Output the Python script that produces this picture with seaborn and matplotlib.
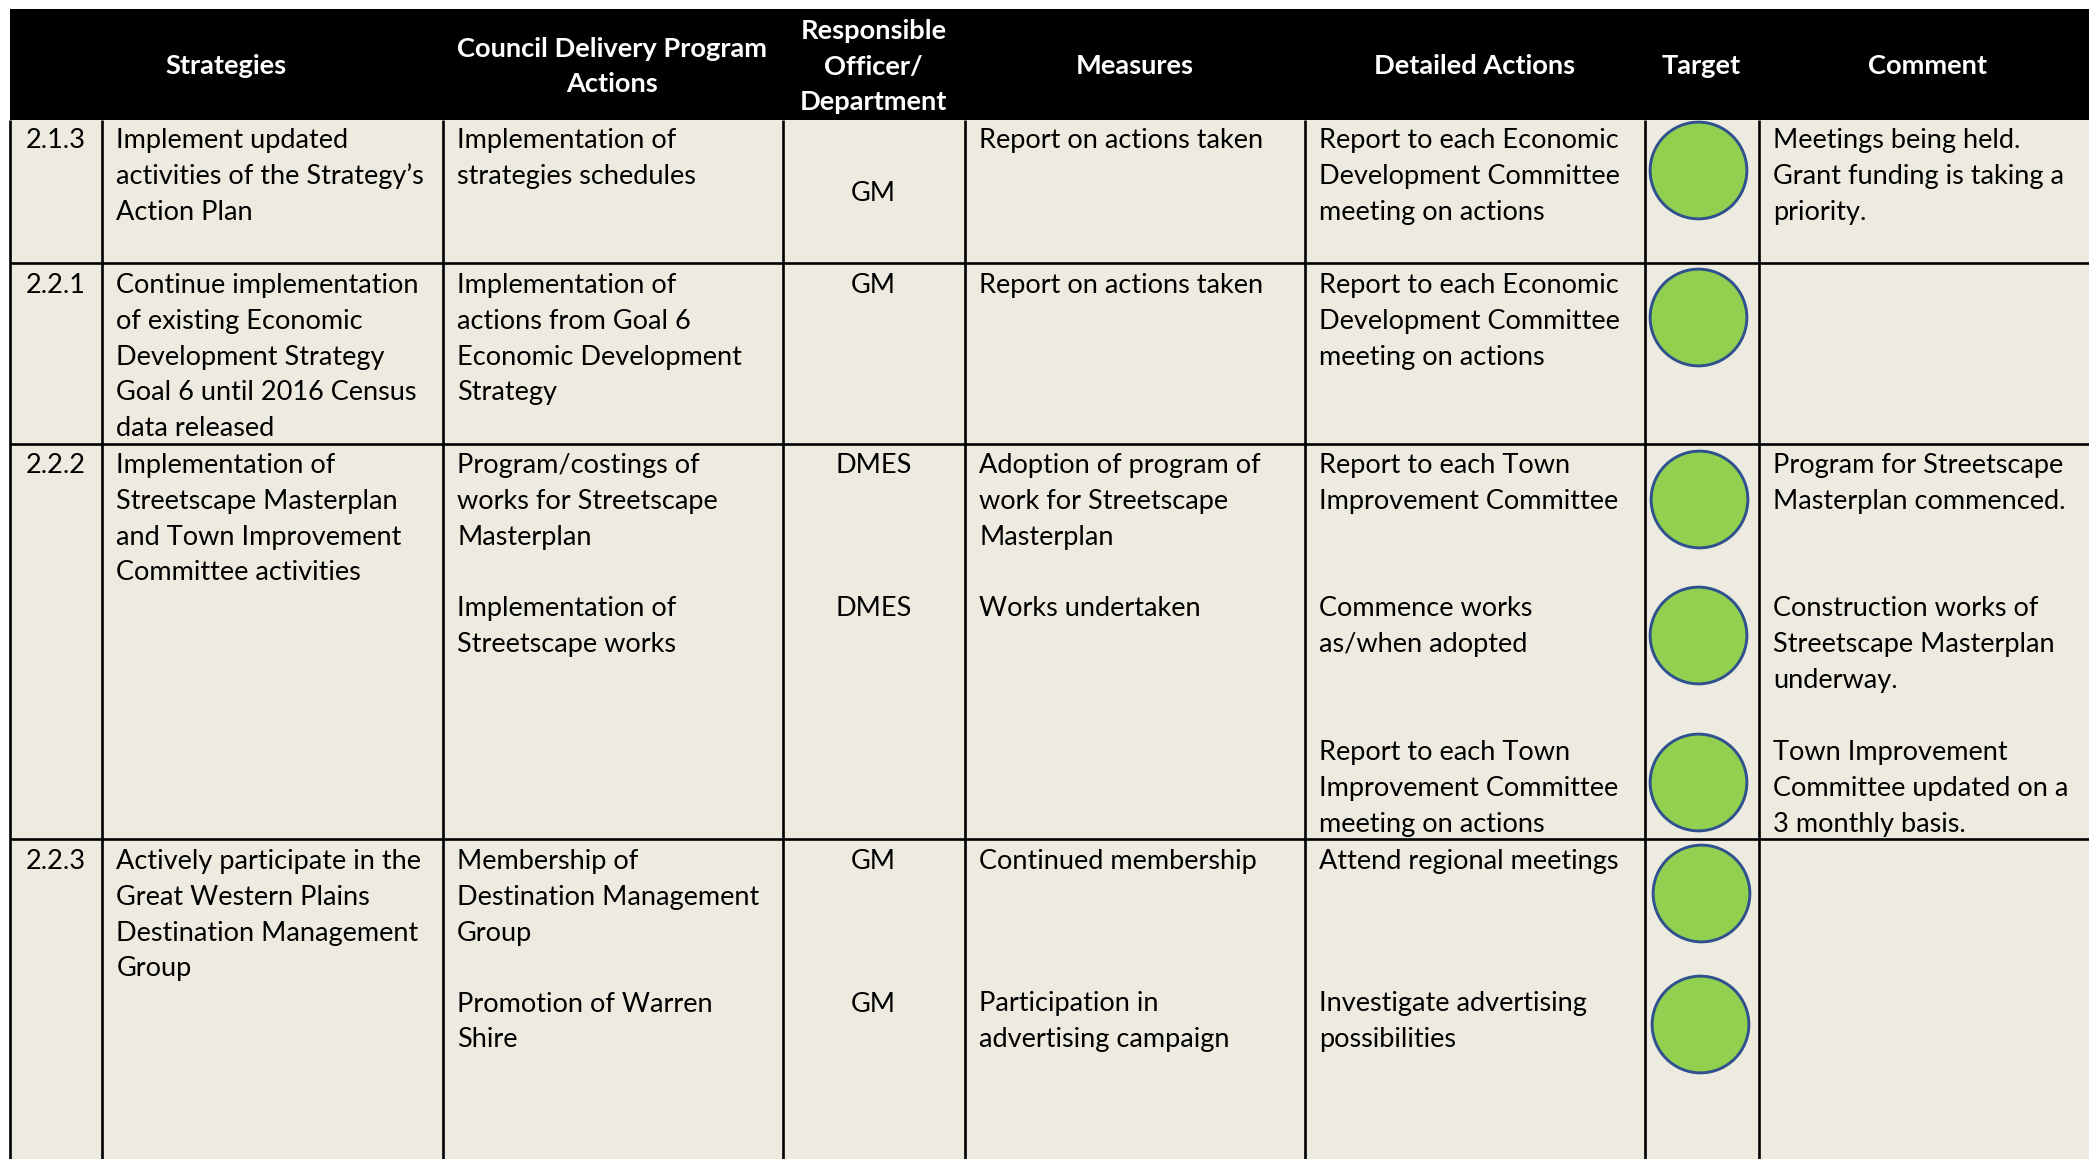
import matplotlib
matplotlib.use("Agg")
import matplotlib.pyplot as plt
import pandas as pd
import seaborn as sns
from matplotlib.patches import Rectangle

# ---- table content ----
headers = ["", "Strategies", "Council Delivery Program\nActions",
           "Responsible\nOfficer/\nDepartment", "Measures", "Detailed Actions",
           "Target", "Comment"]
codes = ["2.1.3", "2.2.1", "2.2.2", "", "", "2.2.3", ""]
strategies = [
    "Implement updated\nactivities of the Strategy’s\nAction Plan",
    "Continue implementation\nof existing Economic\nDevelopment Strategy\nGoal 6 until 2016 Census\ndata released",
    "Implementation of\nStreetscape Masterplan\nand Town Improvement\nCommittee activities",
    "", "",
    "Actively participate in the\nGreat Western Plains\nDestination Management\nGroup",
    "",
]
council_actions = [
    "Implementation of\nstrategies schedules",
    "Implementation of\nactions from Goal 6\nEconomic Development\nStrategy",
    "Program/costings of\nworks for Streetscape\nMasterplan",
    "Implementation of\nStreetscape works",
    "",
    "Membership of\nDestination Management\nGroup",
    "Promotion of Warren\nShire",
]
officers = ["GM", "GM", "DMES", "DMES", "", "GM", "GM"]
measures = [
    "Report on actions taken",
    "Report on actions taken",
    "Adoption of program of\nwork for Streetscape\nMasterplan",
    "Works undertaken",
    "",
    "Continued membership",
    "Participation in\nadvertising campaign",
]
detailed_actions = [
    "Report to each Economic\nDevelopment Committee\nmeeting on actions",
    "Report to each Economic\nDevelopment Committee\nmeeting on actions",
    "Report to each Town\nImprovement Committee",
    "Commence works\nas/when adopted",
    "Report to each Town\nImprovement Committee\nmeeting on actions",
    "Attend regional meetings",
    "Investigate advertising\npossibilities",
]
comments = [
    "Meetings being held.\nGrant funding is taking a\npriority.",
    "",
    "Program for Streetscape\nMasterplan commenced.",
    "Construction works of\nStreetscape Masterplan\nunderway.",
    "Town Improvement\nCommittee updated on a\n3 monthly basis.",
    "", "",
]
target_status = ["green"] * 7

# ---- layout (reference pixels) ----
W, H = 2089, 1159
LEFT, TOP, HEAD_BOTTOM = 10, 9, 120
v_lines = [101.5, 443, 783, 964.5, 1305, 1644.5, 1758.5]
h_lines = [263, 444, 839]
slot_baseline = [148, 293, 473, 616, 760, 869, 1011.5]
PITCH = 35.8
FS = 19.5
text_cols = [(codes, 25.5, "left"), (strategies, 116.5, "left"),
             (council_actions, 457, "left"), (officers, 873.5, "center"),
             (measures, 979, "left"), (detailed_actions, 1319, "left"),
             (comments, 1773, "left")]
header_x = [56, 226, 612, 873.5, 1135, 1474.5, 1701, 1927.5]
target_x = [1697.5, 1698, 1699, 1697.5, 1697.5, 1701, 1699.5]
target_y = [170, 317, 499, 635, 782, 893, 1023.5]

sns.set_theme(style="white")
plt.rcParams["font.family"] = ["Lato", "DejaVu Sans"]

fig = plt.figure(figsize=(W / 100, H / 100), dpi=100, facecolor="white")
ax = fig.add_axes([0, 0, 1, 1])
ax.set_xlim(0, W)
ax.set_ylim(H, 0)
ax.axis("off")

ax.add_patch(Rectangle((LEFT, HEAD_BOTTOM), W - LEFT, H - HEAD_BOTTOM,
                       fc="#EDEBE0", ec="none", zorder=0))
ax.add_patch(Rectangle((LEFT, TOP), W - LEFT, HEAD_BOTTOM - TOP,
                       fc="black", ec="none", zorder=3))
LW = 1.9
ax.vlines(v_lines, HEAD_BOTTOM, H, color="black", lw=LW, zorder=1)
ax.vlines([LEFT], HEAD_BOTTOM, H, color="black", lw=LW, zorder=1)
ax.hlines(h_lines, LEFT, W, color="black", lw=LW, zorder=1)

df = pd.DataFrame({"x": target_x, "y": target_y, "status": target_status})
sns.scatterplot(data=df, x="x", y="y", ax=ax, s=4850, color="#92D050",
                edgecolor="#2F528F", linewidth=2.1, legend=False, zorder=2,
                clip_on=False)
ax.set_xlim(0, W)
ax.set_ylim(H, 0)
ax.axis("off")

# header text: baseline of the block centred on the black band
head_mid = 66
for text, x in zip(headers, header_x):
    lines = text.split("\n") if text else []
    first = head_mid + 8.5 - (len(lines) - 1) * 35.8 / 2
    for i, line in enumerate(lines):
        ax.text(x, first + i * 35.8, line, color="white", fontsize=19.6,
                fontweight="bold", ha="center", va="baseline", zorder=4)

# body text
for values, x, ha in text_cols:
    for slot, text in enumerate(values):
        base = slot_baseline[slot]
        if values is officers and slot == 0:
            base += 53
        for i, line in enumerate(text.split("\n") if text else []):
            ax.text(x, base + i * PITCH, line, color="black", fontsize=FS,
                    ha=ha, va="baseline", zorder=4)

fig.savefig("out.png", dpi=100, facecolor="white")
